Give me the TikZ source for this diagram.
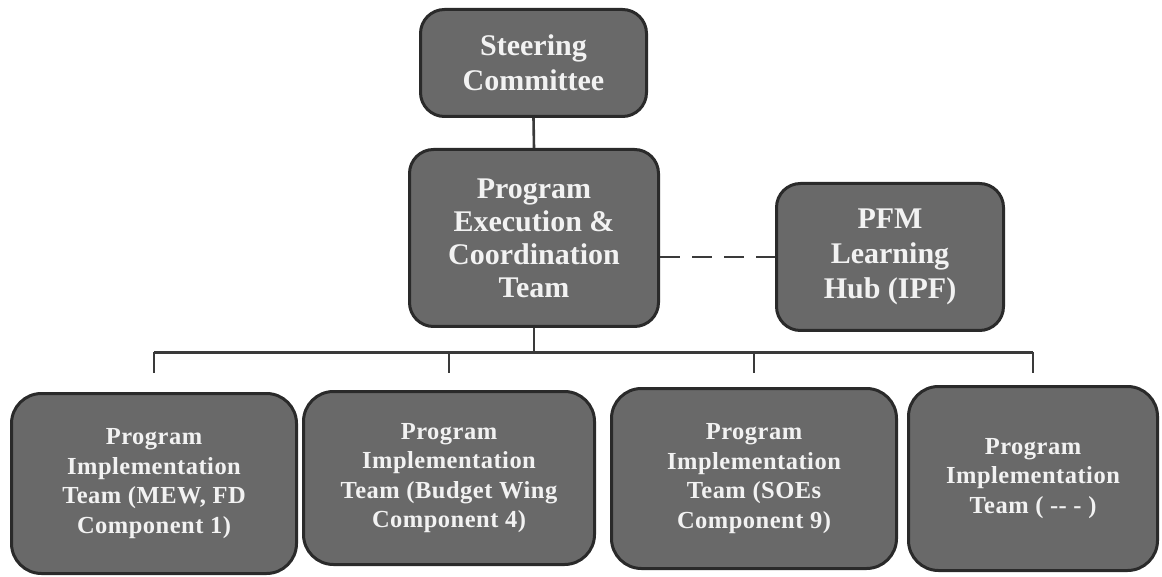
\documentclass[tikz,border=0pt]{standalone}
\usepackage{fontspec}
\setmainfont{Liberation Serif}
\newfontfamily\spacedserif[LetterSpace=2]{Liberation Serif}
\begin{document}
\begin{tikzpicture}[x=1pt,y=-1pt,
  box/.style={draw=boxline, fill=boxfill, line width=3pt, rounded corners=24pt,
    text=boxtext, align=center, inner sep=0pt},
  link/.style={draw=linkcol, line width=2.6pt},
  smalltext/.style={font=\spacedserif\bfseries\fontsize{24.5}{29.5}\selectfont}
]
\definecolor{boxline}{HTML}{2A2A2A}
\definecolor{boxfill}{HTML}{696969}
\definecolor{boxtext}{HTML}{F2F2F2}
\definecolor{linkcol}{HTML}{3A3A3A}
\useasboundingbox[fill=white] (0,0) rectangle (1162,577);

% top of the hierarchy
\node[box, minimum width=226pt, minimum height=107pt,
  font=\bfseries\fontsize{30}{35}\selectfont] (steer) at (533.5,63)
  {Steering\\Committee};
\node[box, minimum width=249pt, minimum height=177pt,
  font=\bfseries\fontsize{30}{33}\selectfont] (exec) at (534,238)
  {Program\\Execution \&\\Coordination\\Team};
\node[box, minimum width=227pt, minimum height=147pt,
  font=\bfseries\fontsize{30}{35}\selectfont] (hub) at (890,257)
  {PFM\\Learning\\Hub (IPF)};

% implementation teams
\node[box, rounded corners=30pt, minimum width=285pt, minimum height=180pt, smalltext] (t1) at (154,483.5)
  {Program\\Implementation\\Team (MEW, FD\\Component 1)};
\node[box, rounded corners=30pt, minimum width=291pt, minimum height=173pt, smalltext] (t2) at (449,478)
  {Program\\Implementation\\Team (Budget Wing\\Component 4)};
\node[box, rounded corners=30pt, minimum width=285pt, minimum height=180pt, smalltext] (t3) at (754,478.5)
  {Program\\Implementation\\Team (SOEs\\Component 9)};
\node[box, rounded corners=30pt, minimum width=249pt, minimum height=184pt, smalltext] (t4) at (1033,478.5)
  {Program\\Implementation\\Team ( -{}- - )};

% connectors
\coordinate (bar) at (0,352);
\draw[link] (steer.south) -- (exec.north);
\draw[link] (exec.south) -- (exec.south |- bar);
\draw[link, line width=3pt] (t1.north |- bar) -- (t4.north |- bar);
\foreach \t in {t1,t2,t3,t4}
  \draw[link] (\t.north |- bar) -- ++(0,21);
\draw[link, dashed, dash pattern=on 20pt off 12pt] (exec.east |- hub.west) -- (hub.west);
\end{tikzpicture}
\end{document}
